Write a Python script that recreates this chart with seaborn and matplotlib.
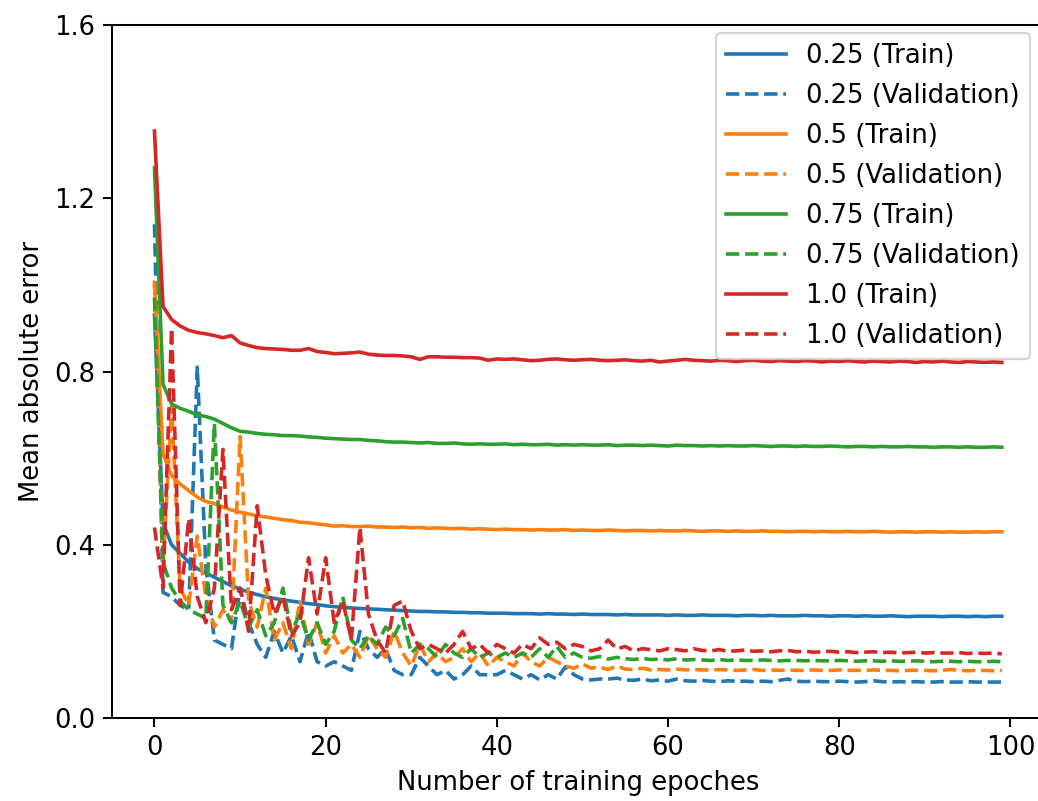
import matplotlib
matplotlib.use("Agg")
import matplotlib.pyplot as plt
import seaborn as sns
import pandas as pd

epochs = list(range(100))

train_025 = [
    0.93, 0.45, 0.40, 0.38, 0.36, 0.345, 0.335, 0.325, 0.315, 0.305,
    0.298, 0.29, 0.285, 0.28, 0.276, 0.273, 0.27, 0.267, 0.264, 0.262,
    0.259, 0.257, 0.256, 0.254, 0.253, 0.252, 0.251, 0.25, 0.249, 0.248,
    0.247, 0.246, 0.246, 0.245, 0.245, 0.244, 0.244, 0.243, 0.243, 0.242,
    0.242, 0.242, 0.241, 0.241, 0.241, 0.240, 0.241, 0.240, 0.240, 0.239,
    0.240, 0.239, 0.239, 0.239, 0.238, 0.239, 0.238, 0.238, 0.238, 0.238,
    0.237, 0.238, 0.237, 0.237, 0.238, 0.237, 0.237, 0.237, 0.236, 0.237,
    0.237, 0.236, 0.237, 0.236, 0.236, 0.236, 0.237, 0.236, 0.236, 0.235,
    0.236, 0.236, 0.235, 0.236, 0.235, 0.235, 0.236, 0.235, 0.234, 0.235,
    0.235, 0.235, 0.234, 0.235, 0.235, 0.234, 0.235, 0.234, 0.235, 0.235,
]
val_025 = [
    1.14, 0.29, 0.28, 0.26, 0.25, 0.81, 0.35, 0.18, 0.17, 0.16,
    0.30, 0.22, 0.17, 0.14, 0.20, 0.15, 0.19, 0.13, 0.20, 0.13,
    0.12, 0.13, 0.12, 0.11, 0.20, 0.16, 0.14, 0.16, 0.11, 0.10,
    0.10, 0.14, 0.12, 0.10, 0.11, 0.09, 0.10, 0.12, 0.10, 0.10,
    0.10, 0.11, 0.10, 0.09, 0.10, 0.088, 0.10, 0.09, 0.118, 0.10,
    0.09, 0.088, 0.09, 0.09, 0.092, 0.088, 0.087, 0.09, 0.086, 0.088,
    0.085, 0.09, 0.086, 0.085, 0.087, 0.085, 0.084, 0.086, 0.085, 0.085,
    0.084, 0.085, 0.084, 0.087, 0.09, 0.085, 0.084, 0.085, 0.084, 0.084,
    0.085, 0.084, 0.083, 0.084, 0.086, 0.084, 0.083, 0.084, 0.083, 0.084,
    0.083, 0.083, 0.084, 0.083, 0.083, 0.084, 0.083, 0.083, 0.083, 0.083,
]
train_05 = [
    1.00, 0.61, 0.56, 0.54, 0.525, 0.51, 0.50, 0.495, 0.487, 0.48,
    0.475, 0.471, 0.467, 0.464, 0.461, 0.458, 0.456, 0.452, 0.451, 0.448,
    0.446, 0.443, 0.444, 0.442, 0.442, 0.443, 0.441, 0.441, 0.440, 0.441,
    0.439, 0.440, 0.438, 0.439, 0.438, 0.437, 0.438, 0.436, 0.437, 0.436,
    0.435, 0.436, 0.435, 0.435, 0.434, 0.435, 0.434, 0.434, 0.435, 0.433,
    0.434, 0.433, 0.433, 0.434, 0.433, 0.432, 0.433, 0.433, 0.432, 0.433,
    0.432, 0.432, 0.433, 0.432, 0.431, 0.432, 0.432, 0.431, 0.432, 0.431,
    0.431, 0.432, 0.431, 0.431, 0.430, 0.431, 0.431, 0.430, 0.431, 0.430,
    0.430, 0.431, 0.430, 0.430, 0.431, 0.430, 0.429, 0.430, 0.430, 0.429,
    0.430, 0.430, 0.429, 0.430, 0.429, 0.429, 0.430, 0.429, 0.430, 0.430,
]
val_05 = [
    1.01, 0.35, 0.72, 0.30, 0.26, 0.42, 0.28, 0.21, 0.25, 0.22,
    0.65, 0.27, 0.21, 0.30, 0.18, 0.22, 0.16, 0.27, 0.17, 0.22,
    0.15, 0.19, 0.15, 0.17, 0.14, 0.19, 0.16, 0.14, 0.20, 0.15,
    0.12, 0.17, 0.13, 0.15, 0.13, 0.14, 0.16, 0.13, 0.15, 0.12,
    0.14, 0.13, 0.12, 0.15, 0.13, 0.12, 0.14, 0.13, 0.12, 0.115,
    0.125, 0.115, 0.118, 0.112, 0.12, 0.113, 0.112, 0.115, 0.111, 0.112,
    0.111, 0.113, 0.111, 0.112, 0.111, 0.111, 0.112, 0.111, 0.110, 0.111,
    0.112, 0.110, 0.111, 0.110, 0.111, 0.110, 0.110, 0.111, 0.110, 0.110,
    0.111, 0.110, 0.110, 0.110, 0.111, 0.110, 0.110, 0.109, 0.110, 0.110,
    0.110, 0.109, 0.110, 0.112, 0.110, 0.109, 0.110, 0.110, 0.109, 0.110,
]
train_075 = [
    1.27, 0.77, 0.725, 0.715, 0.708, 0.70, 0.696, 0.69, 0.68, 0.67,
    0.662, 0.66, 0.657, 0.655, 0.654, 0.652, 0.652, 0.651, 0.649, 0.648,
    0.646, 0.645, 0.644, 0.643, 0.643, 0.641, 0.640, 0.638, 0.637, 0.637,
    0.636, 0.635, 0.636, 0.634, 0.634, 0.635, 0.633, 0.632, 0.633, 0.632,
    0.632, 0.633, 0.631, 0.632, 0.631, 0.631, 0.632, 0.630, 0.631, 0.630,
    0.631, 0.630, 0.630, 0.631, 0.629, 0.630, 0.630, 0.629, 0.630, 0.629,
    0.628, 0.630, 0.629, 0.629, 0.628, 0.629, 0.628, 0.629, 0.628, 0.628,
    0.629, 0.628, 0.627, 0.628, 0.628, 0.627, 0.628, 0.627, 0.627, 0.628,
    0.627, 0.626, 0.627, 0.627, 0.626, 0.627, 0.626, 0.626, 0.627, 0.626,
    0.626, 0.625, 0.626, 0.626, 0.625, 0.626, 0.625, 0.625, 0.626, 0.625,
]
val_075 = [
    0.97, 0.36, 0.30, 0.27, 0.25, 0.24, 0.23, 0.68, 0.26, 0.22,
    0.27, 0.21, 0.25, 0.19, 0.22, 0.30, 0.20, 0.24, 0.18, 0.22,
    0.17, 0.20, 0.28, 0.18, 0.16, 0.19, 0.17, 0.21, 0.19, 0.23,
    0.15, 0.17, 0.16, 0.14, 0.17, 0.15, 0.14, 0.16, 0.14, 0.15,
    0.14, 0.15, 0.14, 0.15, 0.14, 0.16, 0.14, 0.165, 0.14, 0.15,
    0.14, 0.138, 0.142, 0.136, 0.14, 0.137, 0.135, 0.138, 0.135, 0.136,
    0.134, 0.137, 0.134, 0.135, 0.134, 0.133, 0.135, 0.133, 0.134, 0.133,
    0.133, 0.134, 0.133, 0.132, 0.133, 0.133, 0.132, 0.133, 0.132, 0.132,
    0.133, 0.132, 0.131, 0.132, 0.132, 0.131, 0.132, 0.131, 0.131, 0.132,
    0.131, 0.130, 0.131, 0.131, 0.130, 0.131, 0.130, 0.130, 0.131, 0.130,
]
train_10 = [
    1.355, 0.95, 0.92, 0.905, 0.895, 0.89, 0.887, 0.883, 0.878, 0.883,
    0.866, 0.86, 0.855, 0.853, 0.852, 0.851, 0.849, 0.849, 0.853, 0.846,
    0.844, 0.841, 0.842, 0.843, 0.845, 0.840, 0.838, 0.837, 0.837, 0.836,
    0.834, 0.828, 0.834, 0.834, 0.833, 0.833, 0.832, 0.832, 0.831, 0.826,
    0.829, 0.828, 0.829, 0.827, 0.825, 0.826, 0.828, 0.829, 0.827, 0.826,
    0.827, 0.828, 0.826, 0.825, 0.826, 0.827, 0.825, 0.824, 0.826, 0.822,
    0.824, 0.826, 0.828, 0.826, 0.825, 0.824, 0.826, 0.825, 0.823, 0.825,
    0.826, 0.824, 0.823, 0.825, 0.824, 0.823, 0.825, 0.824, 0.822, 0.824,
    0.823, 0.825, 0.823, 0.822, 0.824, 0.823, 0.822, 0.824, 0.823, 0.821,
    0.823, 0.822, 0.824, 0.822, 0.821, 0.823, 0.822, 0.821, 0.822, 0.821,
]
val_10 = [
    0.44, 0.30, 0.90, 0.26, 0.46, 0.28, 0.22, 0.30, 0.62, 0.25,
    0.30, 0.20, 0.49, 0.33, 0.24, 0.28, 0.19, 0.22, 0.37, 0.24,
    0.37, 0.22, 0.27, 0.18, 0.44, 0.24, 0.18, 0.15, 0.26, 0.27,
    0.20, 0.16, 0.17, 0.16, 0.15, 0.17, 0.20, 0.16, 0.17, 0.15,
    0.17, 0.16, 0.15, 0.17, 0.16, 0.185, 0.17, 0.175, 0.16, 0.17,
    0.165, 0.155, 0.16, 0.18, 0.16, 0.165, 0.155, 0.16, 0.158, 0.155,
    0.16, 0.158, 0.155, 0.16, 0.156, 0.155, 0.158, 0.154, 0.155, 0.157,
    0.154, 0.155, 0.153, 0.155, 0.156, 0.153, 0.154, 0.152, 0.153, 0.154,
    0.152, 0.153, 0.151, 0.152, 0.153, 0.151, 0.152, 0.150, 0.151, 0.152,
    0.150, 0.151, 0.150, 0.150, 0.151, 0.149, 0.150, 0.149, 0.150, 0.148,
]

series = [
    ("0.25 (Train)", train_025, "C0", "-"),
    ("0.25 (Validation)", val_025, "C0", "--"),
    ("0.5 (Train)", train_05, "C1", "-"),
    ("0.5 (Validation)", val_05, "C1", "--"),
    ("0.75 (Train)", train_075, "C2", "-"),
    ("0.75 (Validation)", val_075, "C2", "--"),
    ("1.0 (Train)", train_10, "C3", "-"),
    ("1.0 (Validation)", val_10, "C3", "--"),
]

plt.rcParams["font.family"] = ["DejaVu Sans"]
FS = 11.5

fig = plt.figure(figsize=(1038 / 162, 801 / 162), dpi=162)
ax = fig.add_axes([0.108, 0.1036, 0.898, 0.8652])

for label, values, color, ls in series:
    df = pd.DataFrame({"epoch": epochs, "mae": values})
    sns.lineplot(data=df, x="epoch", y="mae", ax=ax, label=label,
                 color=color, linestyle=ls, linewidth=1.6)

ax.set_xlim(-4.95, 103.95)
ax.set_ylim(0, 1.6)
ax.set_yticks([0.0, 0.4, 0.8, 1.2, 1.6])
ax.set_xticks([0, 20, 40, 60, 80, 100])
ax.set_xlabel("Number of training epoches", fontsize=FS, color="black")
ax.set_ylabel("Mean absolute error", fontsize=FS, color="black")
ax.tick_params(labelsize=FS, direction="out", length=4, width=0.9,
               colors="black")
for s in ax.spines.values():
    s.set_linewidth(0.9)
    s.set_color("black")
ax.legend(loc="upper right", fontsize=FS, frameon=True, handlelength=2.3,
          labelspacing=0.54, borderaxespad=0.3, bbox_to_anchor=(0.9933, 1.0))

fig.savefig("out.png", dpi=162)
